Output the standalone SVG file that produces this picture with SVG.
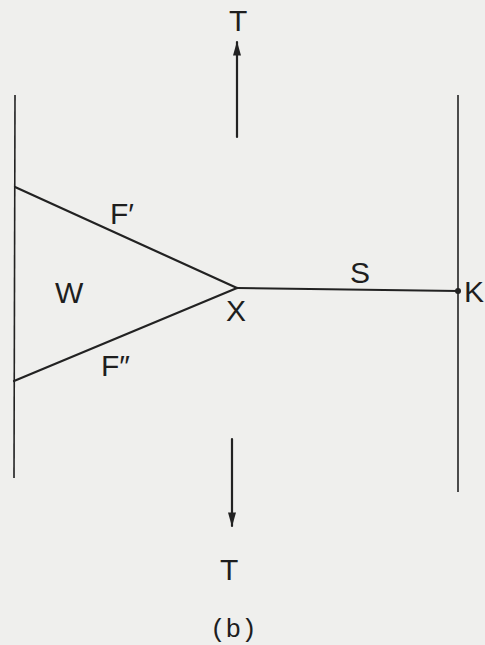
<svg xmlns="http://www.w3.org/2000/svg" width="485" height="645" viewBox="0 0 485 645">
<style>
.ln{stroke:#222;stroke-width:2.2;fill:none;stroke-linecap:round}
.thin{stroke:#222;stroke-width:1.6;fill:none}
.lb{font-family:"Liberation Sans",Arial,sans-serif;font-size:30px;fill:#1e1e1e}
.mono{font-family:"Liberation Mono","Courier New",monospace;font-size:26px;fill:#1e1e1e}
</style>
<defs>
<marker id="ah2" viewBox="0 0 18 10" refX="17" refY="5" markerWidth="16" markerHeight="8" orient="auto" markerUnits="userSpaceOnUse">
<path d="M0,0 L18,5 L0,10 z" fill="#222"/>
</marker>
</defs>
<rect width="485" height="645" fill="#efefed"/>
<g id="walls">
<line class="thin" x1="15" y1="95" x2="14" y2="478"/>
<line class="thin" x1="458" y1="95" x2="458" y2="492"/>
</g>
<g id="connectors">
<line class="ln" x1="15" y1="187" x2="237" y2="288"/>
<line class="ln" x1="14" y1="381" x2="237" y2="288"/>
<line class="ln" x1="237" y1="288" x2="458" y2="291"/>
<line class="ln" x1="237" y1="137" x2="237" y2="42" marker-end="url(#ah2)"/>
<line class="ln" x1="232" y1="439" x2="232" y2="526" marker-end="url(#ah2)"/>
</g>
<g id="K">
<circle cx="458" cy="291" r="3" fill="#222"/>
<text class="lb" x="464" y="302">K</text>
</g>
<g id="X"><text class="lb" x="226" y="321">X</text></g>
<g id="W"><text class="lb" x="55" y="303">W</text></g>
<g id="S"><text class="lb" x="350" y="283">S</text></g>
<g id="Fp"><text class="lb" x="110" y="224">F′</text></g>
<g id="Fpp"><text class="lb" x="101" y="376">F″</text></g>
<g id="Ttop"><text class="lb" x="229" y="31">T</text></g>
<g id="Tbot"><text class="lb" x="220" y="580">T</text></g>
<g id="caption"><text class="mono" x="210" y="637">(b)</text></g>
</svg>
